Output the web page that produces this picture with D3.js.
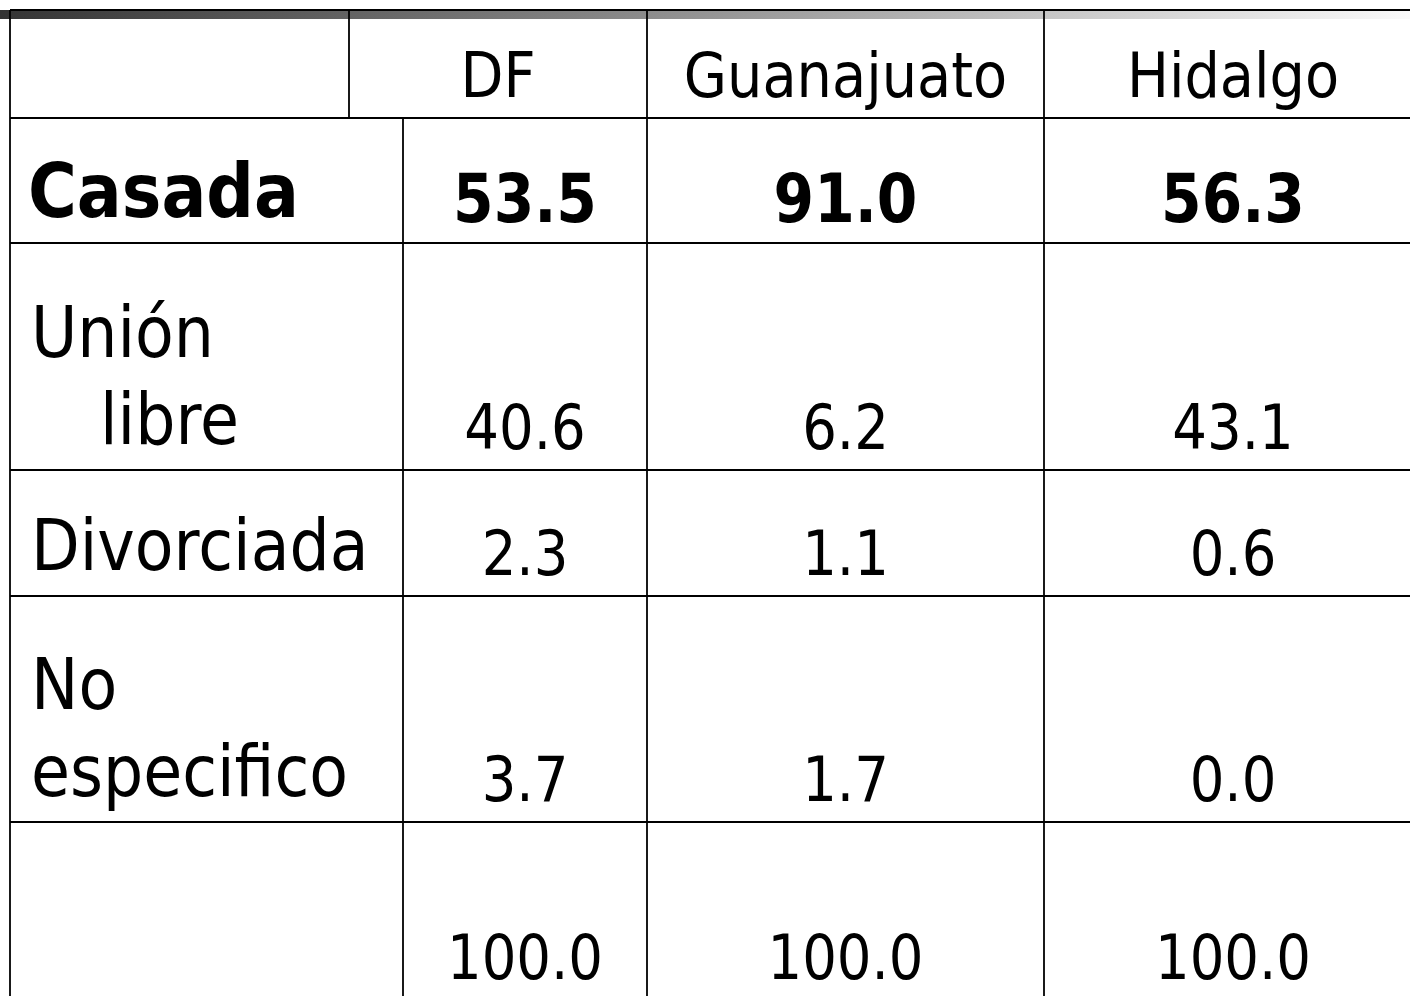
<!DOCTYPE html>
<html>
<head>
<meta charset="utf-8">
<script src="https://cdn.jsdelivr.net/npm/d3@7"></script>
<style>
  body { margin: 0; background: #fff; overflow: hidden; }
  svg { display: block; font-family: "DejaVu Sans", Verdana, sans-serif; }
</style>
</head>
<body>
<div id="chart"></div>
<script>
// table data
var states = ["DF", "Guanajuato", "Hidalgo"];
var rowLabels = [["Casada"], ["Unión", "   libre"], ["Divorciada"], ["No", "especifico"], [""]];
var boldRows = ["Casada"];
var valuesDF = [53.5, 40.6, 2.3, 3.7, 100.0];
var valuesGuanajuato = [91.0, 6.2, 1.1, 1.7, 100.0];
var valuesHidalgo = [56.3, 43.1, 0.6, 0.0, 100.0];

var width = 1410, height = 996;
var fmt = d3.format(".1f");

var svg = d3.select("#chart").append("svg")
  .attr("width", width)
  .attr("height", height);

// layout of the grid
var left = 10, right = 1422;
var headerEdges = [left, 349, 647, 1044, right];
var bodyEdges = [left, 403, 647, 1044, right];
var rowEdges = [10, 118, 243, 470, 596, 822, 1000];

var mid = function(e, i) { return (e[i] + e[i + 1]) / 2; };
var headerX = d3.scaleOrdinal().domain(states).range(states.map(function(d, i) { return mid(headerEdges, i + 1); }));
var colX = d3.scaleOrdinal().domain(states).range(states.map(function(d, i) { return mid(bodyEdges, i + 1); }));
var rowBottom = d3.scaleOrdinal().domain(d3.range(rowLabels.length)).range(rowEdges.slice(2));

// gradient bar along the top
var grad = svg.append("defs").append("linearGradient").attr("id", "topbar");
grad.append("stop").attr("offset", "0%").attr("stop-color", "#343434");
grad.append("stop").attr("offset", "45%").attr("stop-color", "#8a8a8a");
grad.append("stop").attr("offset", "100%").attr("stop-color", "#fafafa");
svg.append("rect").attr("x", 0).attr("y", 10).attr("width", width).attr("height", 9)
  .attr("fill", "url(#topbar)");

// grid lines
var lines = svg.append("g").attr("stroke", "#000").attr("stroke-width", 1.8);
rowEdges.forEach(function(y) {
  lines.append("line").attr("x1", left).attr("x2", right).attr("y1", y).attr("y2", y);
});
lines.append("line").attr("x1", left).attr("x2", left).attr("y1", rowEdges[0]).attr("y2", height + 5);
headerEdges.slice(1, -1).forEach(function(x) {
  lines.append("line").attr("x1", x).attr("x2", x).attr("y1", rowEdges[0]).attr("y2", rowEdges[1]);
});
bodyEdges.slice(1, -1).forEach(function(x) {
  lines.append("line").attr("x1", x).attr("x2", x).attr("y1", rowEdges[1]).attr("y2", height + 5);
});

// header
svg.append("g").selectAll("text").data(states).join("text")
  .attr("transform", function(d) { return "translate(" + headerX(d) + ",97) scale(0.9,1)"; })
  .attr("text-anchor", "middle")
  .attr("font-size", 62)
  .text(function(d) { return d; });

// row labels
var labelG = svg.append("g");
rowLabels.forEach(function(lbl, i) {
  var isBold = boldRows.indexOf(lbl[0]) >= 0;
  var base = rowBottom(i) - 26;
  lbl.forEach(function(line, j) {
    var y = base - (lbl.length - 1 - j) * 87;
    var indent = line.length - line.replace(/^ +/, "").length;
    labelG.append("text")
      .attr("transform", "translate(" + ((isBold ? 28 : 31) + indent * 23) + "," + y + ") scale(" + (isBold ? 0.9 : 0.88) + ",1)")
      .attr("font-size", isBold ? 74 : 72)
      .attr("font-weight", isBold ? "bold" : "normal")
      .text(line.trim());
  });
});

// values
var series = [valuesDF, valuesGuanajuato, valuesHidalgo];
var cells = [];
series.forEach(function(vals, c) {
  vals.forEach(function(v, r) { cells.push({ state: states[c], row: r, value: v }); });
});
svg.append("g").selectAll("text").data(cells).join("text")
  .attr("transform", function(d) {
    var bold = boldRows.indexOf(rowLabels[d.row][0]) >= 0;
    return "translate(" + colX(d.state) + "," + (rowBottom(d.row) - 21) + ") scale(" + (bold ? 0.87 : 0.88) + ",1)";
  })
  .attr("text-anchor", "middle")
  .attr("font-size", function(d) { return boldRows.indexOf(rowLabels[d.row][0]) >= 0 ? 67 : 62; })
  .attr("font-weight", function(d) { return boldRows.indexOf(rowLabels[d.row][0]) >= 0 ? "bold" : "normal"; })
  .text(function(d) { return fmt(d.value); });
</script>
</body>
</html>
